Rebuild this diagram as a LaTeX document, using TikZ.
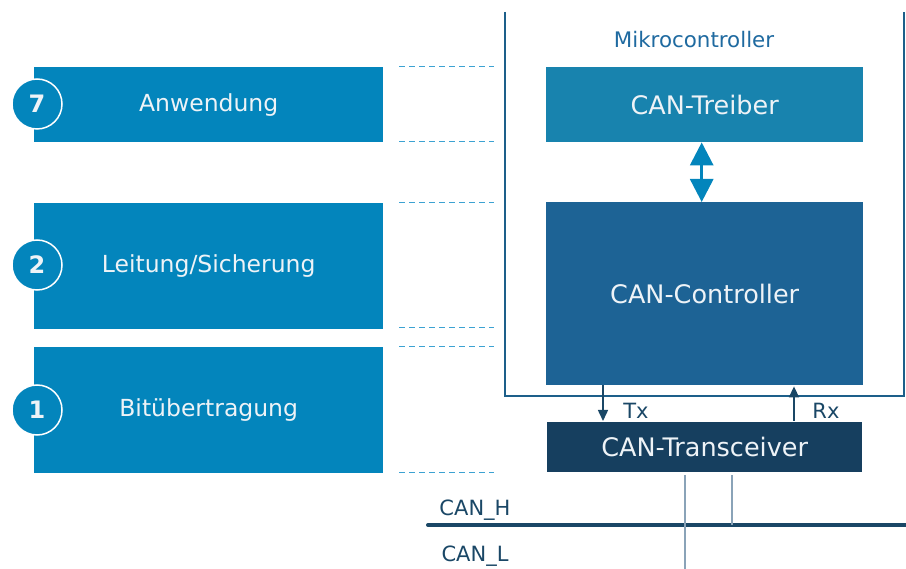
\documentclass[tikz,border=0pt]{standalone}
\usepackage{fontspec}
\setmainfont{DejaVu Sans}
\usetikzlibrary{arrows.meta}
\definecolor{layerblue}{HTML}{0385BC}
\definecolor{driverblue}{HTML}{1883AE}
\definecolor{ctrlblue}{HTML}{1D6395}
\definecolor{xcvrblue}{HTML}{163F5F}
\definecolor{guideblue}{HTML}{3CA2D2}
\definecolor{framecol}{HTML}{1D5F8A}
\definecolor{mcutext}{HTML}{1F6AA0}
\definecolor{buscol}{HTML}{1A4766}
\definecolor{stubcol}{HTML}{8AA3B8}
\definecolor{lighttext}{HTML}{EEF3F7}
\begin{document}
\begin{tikzpicture}[x=1pt,y=-1pt,
  layer/.style={fill=layerblue, draw=none, text=lighttext, anchor=north west,
    inner sep=0pt, minimum width=349pt, font=\fontsize{23.5}{28}\selectfont},
  badge/.style={circle, fill=layerblue, draw=white, line width=1.5pt,
    minimum size=50pt, inner sep=0pt, text=lighttext,
    font=\fontsize{24}{28}\selectfont\bfseries},
  unit/.style={draw=none, text=lighttext, anchor=north west, inner sep=0pt,
    font=\fontsize{25.5}{30}\selectfont},
  guide/.style={draw=guideblue, line width=1pt, dash pattern=on 6pt off 4pt},
  frameline/.style={draw=framecol, line width=1.2pt},
  sig/.style={draw=buscol, line width=1.5pt, -{Triangle[width=10pt,length=11pt]}},
  dblarrow/.style={draw=layerblue, line width=3pt,
    {Triangle[width=23pt,length=23pt]}-{Triangle[width=23pt,length=23pt]}},
  bus/.style={draw=buscol, line width=4pt, line cap=round},
  stub/.style={draw=stubcol, line width=1.5pt},
  label/.style={text=buscol, font=\fontsize{21}{25}\selectfont, inner sep=0pt},
]
\useasboundingbox (0,0) rectangle (906,569);

% OSI layers
\node[layer, minimum height=75pt]  (app)  at (34,67)  {Anwendung};
\node[layer, minimum height=126pt] (link) at (34,203) {Leitung/Sicherung};
\node[layer, minimum height=126pt] (phy)  at (34,347) {Bitübertragung};
\node[badge] (n7) at (37,104) {7};
\node[badge] (n2) at (37,265) {2};
\node[badge] (n1) at (37,410) {1};

% guide lines
\foreach \yy in {67,142,203,328,347,473}
  \draw[guide] (399,\yy) -- (494,\yy);

% microcontroller frame (open at the top)
\coordinate (ftl) at (505,12);
\coordinate (fbl) at (505,396);
\coordinate (fbr) at (904,396);
\coordinate (ftr) at (904,12);
\draw[frameline] (ftl) -- (fbl) -- (fbr) -- (ftr);
\node[text=mcutext, font=\fontsize{21.4}{25}\selectfont] (mcu) at (694,40) {Mikrocontroller};

% blocks
\node[unit, fill=driverblue, minimum width=317pt, minimum height=75pt]  (drv)  at (546,67)  {CAN-Treiber};
\node[unit, fill=ctrlblue,   minimum width=317pt, minimum height=183pt] (ctrl) at (546,202) {CAN-Controller};
\node[unit, fill=xcvrblue,   minimum width=315pt, minimum height=50pt]  (xcvr) at (547,422) {CAN-Transceiver};

\draw[dblarrow] ([xshift=-3pt]drv.south) -- ([xshift=-3pt]ctrl.north);

% Tx / Rx
\draw[sig] ([xshift=57pt]ctrl.south west) -- ([xshift=56pt,yshift=1pt]xcvr.north west);
\draw[sig] ([xshift=247pt,yshift=1pt]xcvr.north west) -- ([xshift=248pt,yshift=-1pt]ctrl.south west);
\node[label] (tx) at (636,411) {Tx};
\node[label] (rx) at (826,411) {Rx};

% bus
\coordinate (busw) at (428,525);
\coordinate (buse) at (906,525);
\draw[bus] (busw) -- (buse);
\coordinate (lend) at (685,569);
\coordinate (hend) at (732,525);
\draw[stub] ([yshift=-3pt]xcvr.south west -| lend) -- (lend);
\draw[stub] ([yshift=-3pt]xcvr.south west -| hend) -- (hend);
\node[label] (canh) at (475,510) {CAN\_H};
\node[label] (canl) at (475,556) {CAN\_L};
\end{tikzpicture}
\end{document}
